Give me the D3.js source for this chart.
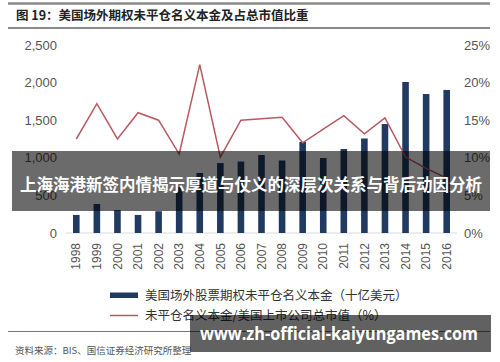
<!DOCTYPE html>
<html>
<head>
<meta charset="utf-8">
<script src="https://cdn.jsdelivr.net/npm/d3@7"></script>
<style>
  body { margin: 0; background: #fff; }
  svg { display: block; }
</style>
</head>
<body>
<svg id="chart"></svg>
<script>
const years = ['1998', '1999', '2000', '2001', '2002', '2003', '2004', '2005', '2006', '2007',
  '2008', '2009', '2010', '2011', '2012', '2013', '2014', '2015', '2016'];
const notional = [240, 385, 305, 240, 290, 612, 798, 930, 950, 1037,
  964, 1210, 997, 1117, 1257, 1449, 2008, 1848, 1902];
const ratio = [12.5, 17.2, 12.5, 16.0, 15.0, 10.5, 22.4, 10.1, 15.0, 15.2,
  15.4, 12.0, 13.8, 15.6, 13.2, 15.3, 10.1, 8.6, 7.3];
const leftTicks = [0, 500, 1000, 1500, 2000, 2500];
const rightTicks = [0, 5, 10, 15, 20, 25];

const titleText = '图 19：美国场外期权未平仓名义本金及占总市值比重';
const legendLabels = ['美国场外股票期权未平仓名义本金（十亿美元）', '未平仓名义本金/美国上市公司总市值（%）'];
const sourceText = '资料来源：BIS、国信证券经济研究所整理';
const bannerText = '上海海港新签内情揭示厚道与仗义的深层次关系与背后动因分析';
const siteText = 'www.zh-official-kaiyungames.com';

const W = 500;
const H = 362;
const cjk = '"Noto Sans CJK SC", "Noto Sans", sans-serif';
const latin = '"Liberation Sans", Arial, sans-serif';

const svg = d3.select('#chart')
  .attr('width', W)
  .attr('height', H);

// title block
svg.append('line')
  .attr('x1', 8).attr('x2', 490).attr('y1', 3.5).attr('y2', 3.5)
  .attr('stroke', '#8a8a8a').attr('stroke-width', 2.5);
svg.append('line')
  .attr('x1', 8).attr('x2', 490).attr('y1', 28).attr('y2', 28)
  .attr('stroke', '#8a8a8a').attr('stroke-width', 2);
svg.append('text')
  .attr('x', 16).attr('y', 15.5)
  .attr('dy', '0.35em')
  .attr('font-family', cjk)
  .attr('font-weight', 'bold')
  .attr('font-size', 12.5)
  .attr('fill', '#222')
  .text(titleText);

// scales
const x = d3.scaleBand()
  .domain(years)
  .range([66, 457])
  .paddingInner(0.68)
  .paddingOuter(0.34);

const yLeft = d3.scaleLinear()
  .domain([0, 2500])
  .range([233, 45]);

const yRight = d3.scaleLinear()
  .domain([0, 25])
  .range([233, 45]);

// left axis labels
svg.append('g')
  .attr('font-family', latin)
  .attr('font-size', 13)
  .attr('fill', '#555')
  .attr('text-anchor', 'end')
  .selectAll('text')
  .data(leftTicks)
  .enter().append('text')
  .attr('x', 57)
  .attr('y', d => yLeft(d))
  .attr('dy', '0.35em')
  .text(d => d3.format(',')(d));

// right axis labels
svg.append('g')
  .attr('font-family', latin)
  .attr('font-size', 13)
  .attr('fill', '#555')
  .attr('text-anchor', 'start')
  .selectAll('text')
  .data(rightTicks)
  .enter().append('text')
  .attr('x', 464)
  .attr('y', d => yRight(d))
  .attr('dy', '0.35em')
  .text(d => `${d}%`);

// baseline
svg.append('line')
  .attr('x1', x.range()[0]).attr('x2', x.range()[1])
  .attr('y1', yLeft(0)).attr('y2', yLeft(0))
  .attr('stroke', '#d9d9d9').attr('stroke-width', 1);

// bars
svg.selectAll('.bar')
  .data(years)
  .enter().append('rect')
  .attr('class', 'bar')
  .attr('x', d => x(d))
  .attr('width', x.bandwidth())
  .attr('y', (d, i) => yLeft(notional[i]))
  .attr('height', (d, i) => yLeft(0) - yLeft(notional[i]))
  .attr('fill', '#203a62');

// ratio line
const line = d3.line()
  .x((d, i) => x(years[i]) + x.bandwidth() / 2)
  .y(d => yRight(d));

svg.append('path')
  .datum(ratio)
  .attr('fill', 'none')
  .attr('stroke', '#b8595f')
  .attr('stroke-width', 1.5)
  .attr('stroke-linejoin', 'miter')
  .attr('d', line);

// year labels
svg.append('g')
  .attr('font-family', latin)
  .attr('font-size', 12)
  .attr('fill', '#555')
  .selectAll('text')
  .data(years)
  .enter().append('text')
  .attr('text-anchor', 'end')
  .attr('transform', d => `translate(${x(d) + x.bandwidth() / 2}, 243) rotate(-90)`)
  .attr('dy', '0.35em')
  .text(d => d);

// legend
const legend = svg.append('g')
  .attr('font-family', cjk)
  .attr('font-size', 12.5)
  .attr('fill', '#333');

legend.append('rect')
  .attr('x', 110).attr('y', 292.5)
  .attr('width', 28).attr('height', 5.5)
  .attr('fill', '#203a62');
legend.append('text')
  .attr('x', 145).attr('y', 295.5)
  .attr('dy', '0.35em')
  .text(legendLabels[0]);

legend.append('line')
  .attr('x1', 110).attr('x2', 138)
  .attr('y1', 315.5).attr('y2', 315.5)
  .attr('stroke', '#b8595f').attr('stroke-width', 1.5);
legend.append('text')
  .attr('x', 145).attr('y', 315.5)
  .attr('dy', '0.35em')
  .text(legendLabels[1]);

// source
svg.append('line')
  .attr('x1', 8).attr('x2', 490).attr('y1', 331.5).attr('y2', 331.5)
  .attr('stroke', '#777').attr('stroke-width', 1.2);
svg.append('text')
  .attr('x', 15).attr('y', 351)
  .attr('dy', '0.35em')
  .attr('font-family', cjk)
  .attr('font-size', 9.5)
  .attr('fill', '#555')
  .text(sourceText);

// overlay banners
svg.append('rect')
  .attr('x', 12).attr('y', 151)
  .attr('width', 478).attr('height', 60)
  .attr('fill', 'rgba(0,0,0,0.58)');
svg.append('text')
  .attr('x', 251).attr('y', 185)
  .attr('dy', '0.35em')
  .attr('text-anchor', 'middle')
  .attr('font-family', cjk)
  .attr('font-weight', 'bold')
  .attr('font-size', 16.5)
  .attr('fill', '#fff')
  .text(bannerText);

svg.append('rect')
  .attr('x', 190).attr('y', 315)
  .attr('width', 301).attr('height', 37)
  .attr('fill', 'rgba(0,0,0,0.62)');
svg.append('text')
  .attr('x', 339).attr('y', 334)
  .attr('dy', '0.35em')
  .attr('text-anchor', 'middle')
  .attr('font-family', '"Open Sans", "DejaVu Sans", sans-serif')
  .attr('font-weight', 'bold')
  .attr('font-size', 17)
  .attr('textLength', 278)
  .attr('lengthAdjust', 'spacingAndGlyphs')
  .attr('fill', '#fff')
  .text(siteText);
</script>
</body>
</html>
